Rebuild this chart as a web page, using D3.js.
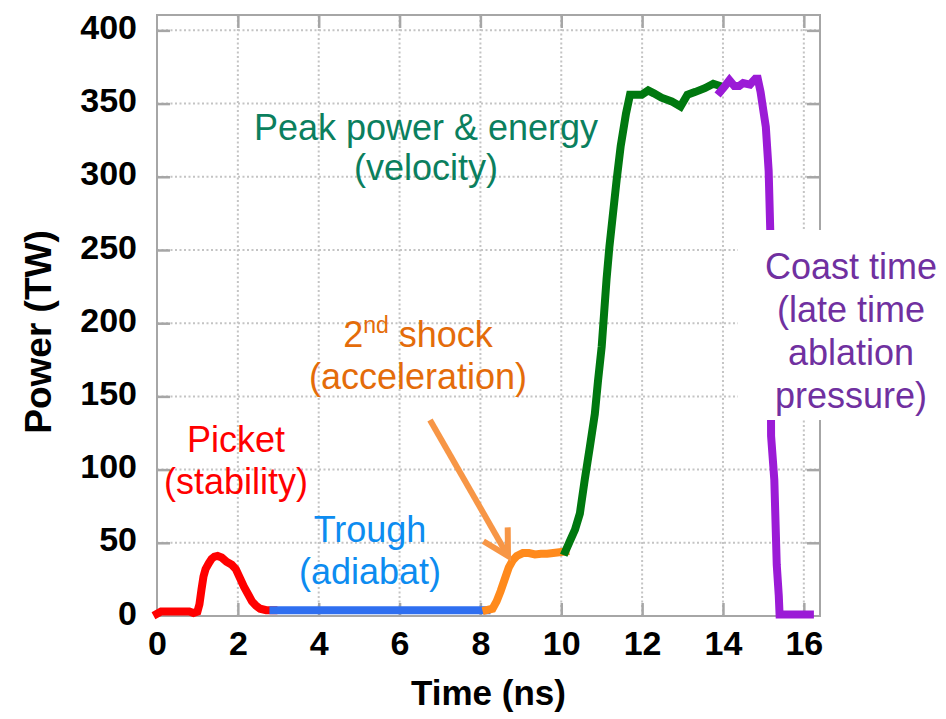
<!DOCTYPE html>
<html>
<head>
<meta charset="utf-8">
<script src="https://cdn.jsdelivr.net/npm/d3@7"></script>
<style>
  html, body { margin: 0; padding: 0; background: #fff; }
  svg { display: block; font-family: "Liberation Sans", Arial, sans-serif; }
</style>
</head>
<body>
<svg id="chart" width="946" height="719"></svg>
<script>
// ---------- data ----------
const timeTicks  = [0, 2, 4, 6, 8, 10, 12, 14, 16];
const powerTicks = [0, 50, 100, 150, 200, 250, 300, 350, 400];

// Picket (red)
const picketTime  = [0, 0.1, 0.2, 0.5, 0.8, 0.9, 1.0, 1.05, 1.1, 1.15, 1.2, 1.28, 1.35, 1.42, 1.5, 1.6, 1.72, 1.85, 1.95, 2.05, 2.15, 2.25, 2.35, 2.45, 2.55, 2.7, 2.88];
const picketPower = [1.5, 3, 3, 3, 3, 2, 3, 8, 18, 27, 32, 36, 39, 40.5, 41, 40, 37, 35, 32, 26, 20, 15, 10, 7, 5, 4, 4];
// Trough (blue)
const troughTime  = [2.88, 4, 6, 8, 8.15];
const troughPower = [4, 4, 4, 4, 4];
// 2nd shock (orange)
const shockTime   = [8.15, 8.3, 8.4, 8.5, 8.6, 8.7, 8.8, 8.9, 9.05, 9.2, 9.35, 9.5, 9.65, 9.8, 9.95, 10.1];
const shockPower  = [4, 5, 10, 17, 25, 33, 38, 41, 43, 43, 42, 42.5, 42.5, 43, 43.5, 44];
// Peak power (green)
const peakTime    = [10.1, 10.21, 10.34, 10.46, 10.58, 10.71, 10.83, 10.91, 11.0, 11.06, 11.12, 11.19, 11.28, 11.37, 11.47, 11.6, 11.7, 11.78, 11.99, 12.15, 12.29, 12.48, 12.73, 12.95, 13.12, 13.32, 13.55, 13.76, 13.93];
const peakPower   = [44, 51, 59, 70, 93, 116, 138, 161, 184, 207, 230, 252, 275, 298, 321, 343, 356, 356, 356, 359, 357, 354, 351.5, 348, 356, 358, 360.5, 363.5, 362];
// Coast (purple)
const coastTime   = [13.93, 14.05, 14.16, 14.28, 14.4, 14.5, 14.67, 14.8, 14.86, 14.93, 15.0, 15.06, 15.13, 15.17, 15.18, 15.19, 15.23, 15.27, 15.33, 15.38, 15.4, 15.7, 16.15];
const coastPower  = [358, 362, 366, 362, 362, 364, 363, 367, 367, 358, 345, 334, 304, 263, 200, 123, 108, 93, 35, 14, 1, 1, 1];

const seriesNames  = ["Picket", "Trough", "2nd shock", "Peak", "Coast"];
const seriesTimes  = [picketTime, troughTime, shockTime, peakTime, coastTime];
const seriesPowers = [picketPower, troughPower, shockPower, peakPower, coastPower];
const seriesColors = ["#ff0000", "#2f6ff0", "#ff8a1c", "#00780f", "#9b1bd6"];

// annotations
const picketLabel = ["Picket", "(stability)"];
const troughLabel = ["Trough", "(adiabat)"];
const shockLabel2 = ["(acceleration)"];
const peakLabel   = ["Peak power & energy", "(velocity)"];
const coastLabel  = ["Coast time", "(late time", "ablation", "pressure)"];

// ---------- layout ----------
const svg = d3.select("#chart");
const x = d3.scaleLinear().domain([0, 16.4]).range([157, 820]);
const y = d3.scaleLinear().domain([0, 410.5]).range([616, 15]);
const xMax = 16.4, yMax = 410.5;

const gridColor = "#c4c4c4", frameColor = "#a6a6a6";

// gridlines
const grid = svg.append("g");
grid.selectAll("line.v").data(timeTicks.filter(d => d > 0)).join("line")
  .attr("x1", d => x(d)).attr("x2", d => x(d))
  .attr("y1", y(0)).attr("y2", y(yMax))
  .attr("stroke", gridColor).attr("stroke-width", 2).attr("stroke-dasharray", "2,2.5");
grid.selectAll("line.h").data(powerTicks.filter(d => d > 0)).join("line")
  .attr("x1", x(0)).attr("x2", x(xMax))
  .attr("y1", d => y(d)).attr("y2", d => y(d))
  .attr("stroke", gridColor).attr("stroke-width", 2).attr("stroke-dasharray", "2,2.5");

// inward tick marks on all four sides
function styleTicks(g) {
  g.select(".domain").remove();
  g.selectAll(".tick line").attr("stroke", frameColor).attr("stroke-width", 2.5);
  g.selectAll(".tick text").remove();
}
svg.append("g").attr("transform", `translate(0,${y(0)})`)
  .call(d3.axisBottom(x).tickValues(timeTicks.filter(d => d > 0)).tickSize(-13)).call(styleTicks);
svg.append("g").attr("transform", `translate(0,${y(yMax)})`)
  .call(d3.axisTop(x).tickValues(timeTicks.filter(d => d > 0)).tickSize(-13)).call(styleTicks);
svg.append("g").attr("transform", `translate(${x(0)},0)`)
  .call(d3.axisLeft(y).tickValues(powerTicks.filter(d => d > 0)).tickSize(-13)).call(styleTicks);
svg.append("g").attr("transform", `translate(${x(xMax)},0)`)
  .call(d3.axisRight(y).tickValues(powerTicks.filter(d => d > 0)).tickSize(-13)).call(styleTicks);

// frame
svg.append("rect")
  .attr("x", x(0)).attr("y", y(yMax))
  .attr("width", x(xMax) - x(0)).attr("height", y(0) - y(yMax))
  .attr("fill", "none").attr("stroke", frameColor).attr("stroke-width", 2);

// tick labels
const xAxis = svg.append("g").attr("transform", `translate(0,${y(0)})`)
  .call(d3.axisBottom(x).tickValues(timeTicks).tickSize(0).tickPadding(15).tickFormat(d3.format("d")));
xAxis.select(".domain").remove();
xAxis.selectAll("text").attr("font-size", 34).attr("font-weight", "bold").attr("fill", "#000")
  .attr("font-family", "'Liberation Sans', Arial, sans-serif");

const yAxis = svg.append("g").attr("transform", `translate(${x(0)},0)`)
  .call(d3.axisLeft(y).tickValues(powerTicks).tickSize(0).tickPadding(20).tickFormat(d3.format("d")));
yAxis.select(".domain").remove();
yAxis.selectAll("text").attr("font-size", 34).attr("font-weight", "bold").attr("fill", "#000")
  .attr("dy", "0.24em").attr("font-family", "'Liberation Sans', Arial, sans-serif");

// axis titles
svg.append("text").attr("x", (x(0) + x(xMax)) / 2).attr("y", 705)
  .attr("text-anchor", "middle").attr("font-size", 35).attr("font-weight", "bold")
  .text("Time (ns)");
svg.append("text").attr("transform", `translate(51,332) rotate(-90)`)
  .attr("text-anchor", "middle").attr("font-size", 37).attr("font-weight", "bold")
  .text("Power (TW)");

// series
const line = d3.line().x(d => x(d[0])).y(d => y(d[1]));
seriesTimes.forEach((ts, i) => {
  svg.append("path")
    .datum(d3.zip(ts, seriesPowers[i]))
    .attr("d", line)
    .attr("fill", "none")
    .attr("stroke", seriesColors[i])
    .attr("stroke-width", 8)
    .attr("stroke-linejoin", "miter")
    .attr("stroke-miterlimit", 2)
    .attr("stroke-linecap", "square")
    .attr("class", "series-" + i);
});

// white box behind the Coast label
svg.append("rect").attr("x", 738).attr("y", 230).attr("width", 208).attr("height", 190).attr("fill", "#fff");

// annotation helper
function multiline(lines, cx, baselines, color) {
  const t = svg.append("text").attr("text-anchor", "middle").attr("font-size", 36).attr("fill", color);
  lines.forEach((s, i) => t.append("tspan").attr("x", cx).attr("y", baselines[i]).text(s));
}
multiline(picketLabel, 236, [452, 494], "#ff0000");
multiline(troughLabel, 370, [542, 584], "#0d8cf0");
multiline(peakLabel, 426, [140, 180], "#0b7f5e");
multiline(coastLabel, 851, [279, 322, 365, 408], "#7030a0");

// 2nd shock label with superscript
const shock = svg.append("text").attr("text-anchor", "middle").attr("font-size", 36).attr("fill", "#e46c0a")
  .attr("x", 418).attr("y", 347);
shock.append("tspan").text("2");
shock.append("tspan").attr("font-size", 23).attr("dy", -14).text("nd");
shock.append("tspan").attr("dy", 14).text(" shock");
multiline(shockLabel2, 418, [389], "#e46c0a");

// arrow
const arrowColor = "#f79646";
const ax1 = 430, ay1 = 420, ax2 = 508, ay2 = 556;
const len = Math.hypot(ax2 - ax1, ay2 - ay1);
const ux = (ax2 - ax1) / len, uy = (ay2 - ay1) / len;
const nx = -uy, ny = ux;
svg.append("line").attr("x1", ax1).attr("y1", ay1).attr("x2", ax2 - 3 * ux).attr("y2", ay2 - 3 * uy)
  .attr("stroke", arrowColor).attr("stroke-width", 6);
svg.append("path")
  .attr("d", `M${ax2 - 25 * ux + 14 * nx},${ay2 - 25 * uy + 14 * ny} L${ax2},${ay2} L${ax2 - 25 * ux - 14 * nx},${ay2 - 25 * uy - 14 * ny}`)
  .attr("fill", "none").attr("stroke", arrowColor).attr("stroke-width", 6).attr("stroke-linejoin", "miter");
</script>
</body>
</html>
